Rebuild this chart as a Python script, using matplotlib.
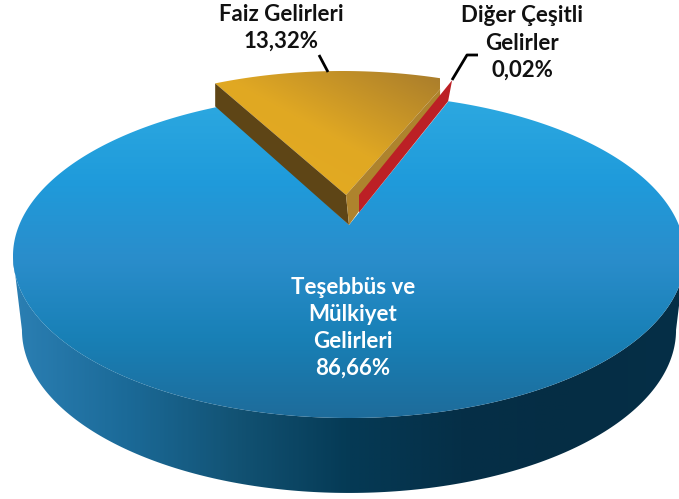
import numpy as np
import matplotlib
matplotlib.use('Agg')
import matplotlib.pyplot as plt
from matplotlib.colors import LinearSegmentedColormap
from matplotlib.patches import Polygon

labels = ['Faiz Gelirleri\n13,32%', 'Diğer Çeşitli\nGelirler\n0,02%', 'Teşebbüs ve\nMülkiyet\nGelirleri\n86,66%']
values = [13.32, 0.02, 86.66]

W, H = 679, 499
START = -27.2  # clockwise from the far side of the disc

# perspective of the top and bottom plates, in pixels
PERSP = 0.1914
CX = 349


def top(u, v):
    d = 1 + PERSP * v
    return CX + 329.8 * u / d, (225 - 113 * v) / d


def bottom(u, v):
    d = 1 + PERSP * v
    return CX + 321 * u / d, (298.8 - 99.8 * v) / d


def rim(func, a0, a1, n=200):
    a = np.radians(np.linspace(a0, a1, n))
    x, y = func(np.sin(a), np.cos(a))
    return np.column_stack([x, y])


def fill(ax, pts, colors, direction='v'):
    cmap = LinearSegmentedColormap.from_list('g', colors)
    x0, y0 = pts.min(axis=0)
    x1, y1 = pts.max(axis=0)
    gx, gy = np.meshgrid(np.linspace(0, 1, 300), np.linspace(0, 1, 300))
    if direction == 'v':
        g = gy
    elif direction == 'h':
        g = gx
    else:
        g = (gx + (1 - gy)) / 2
    patch = Polygon(pts, closed=True, fc='none', ec='none')
    ax.add_patch(patch)
    im = ax.imshow(g, cmap=cmap, extent=[x0, x1, y1, y0], aspect='auto', vmin=0, vmax=1,
                   interpolation='bilinear', zorder=patch.get_zorder())
    im.set_clip_path(patch)


angles = START + np.cumsum([0] + values) * 3.6
gold_a, gold_b = angles[0], angles[1]
red_b = angles[2]
blue_end = angles[3]

fig = plt.figure(figsize=(W / 100, H / 100), dpi=100)
ax = fig.add_axes([0, 0, 1, 1])
ax.axis('off')
plt.rcParams['font.family'] = ['Lato', 'DejaVu Sans']

# outer wall of the big slice
tilt = np.degrees(np.arcsin(PERSP))
wall = np.vstack([rim(top, 270 - tilt, 90 + tilt), rim(bottom, 90 + tilt, 270 - tilt)])
fill(ax, wall, ['#2B7FB3', '#1B6A98', '#125273', '#053A55', '#052F47', '#052D44', '#062F47'], 'h')

# top of the big slice
apex = np.array(top(0, 0))
blue = np.vstack([apex, rim(top, red_b, blue_end, 500)])
fill(ax, blue, ['#2CA8E0', '#1F9BDB', '#2A8DCB', '#1880B6', '#1E6C9B'], 'v')

# raised small slice
apex_up = apex + np.array([-3, -30])
arc_up = rim(top, gold_a, gold_b) + np.column_stack([np.linspace(-5, -8, 200), np.full(200, -23)])
left_low = np.array(top(np.sin(np.radians(gold_a)), np.cos(np.radians(gold_a))))

fill(ax, np.vstack([apex_up, arc_up, arc_up[-1] + [0, 11]]), ['#E6AC20', '#E0A823', '#A87C2C'], 'd')
ax.add_patch(Polygon([left_low + [-5, 0], apex, apex_up, arc_up[0]], closed=True, fc='#5E4516', ec='none'))
ax.add_patch(Polygon([apex_up, arc_up[-1] + [0, 11], arc_up[-1] + [0, 21], apex], closed=True, fc='#AE832D', ec='none'))

# thin slice: only its wall shows
red_rim = np.array(top(np.sin(np.radians(gold_b)), np.cos(np.radians(gold_b))))
red = Polygon([apex, red_rim, red_rim + [4, -21], apex + [10, -30]], closed=True, fc='#BC2025', ec='none')
ax.add_patch(red)
clip = Polygon([[apex[0] + 10, 0], [W, 0], [W, H], [apex[0] + 10, H]], closed=True, fc='none', ec='none')
ax.add_patch(clip)
red.set_clip_path(clip)

# leader lines
ax.plot([319, 328], [55, 72], color='black', lw=2, solid_capstyle='butt')
ax.plot([452, 467, 478], [80, 55, 55], color='black', lw=2, solid_capstyle='butt')

ax.text(281, 28, labels[0], ha='center', va='center', fontsize=16, fontweight='bold', linespacing=1.36, color='#111111')
ax.text(522, 43, labels[1], ha='center', va='center', fontsize=16, fontweight='bold', linespacing=1.36, color='#111111')
ax.text(353, 328, labels[2], ha='center', va='center', fontsize=16, fontweight='bold', linespacing=1.36, color='white')

ax.set_xlim(0, W)
ax.set_ylim(H, 0)
fig.savefig('out.png', dpi=100)
